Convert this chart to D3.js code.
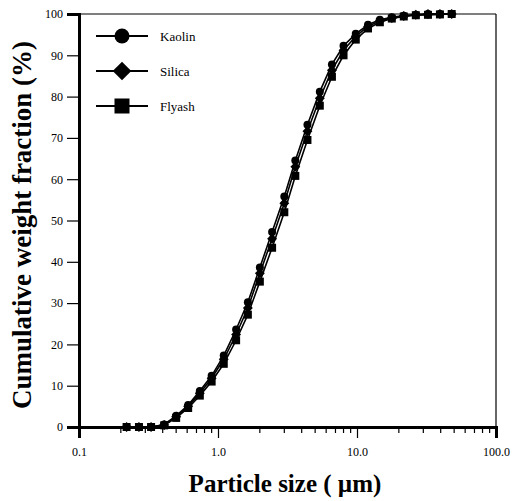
<!DOCTYPE html>
<html>
<head>
<meta charset="utf-8">
<script src="https://cdn.jsdelivr.net/npm/d3@7/dist/d3.min.js"></script>
<style>
  html, body { margin: 0; padding: 0; background: #fff; }
  svg { display: block; }
  text { font-family: "Liberation Serif", "DejaVu Serif", serif; fill: #000; }
</style>
</head>
<body>
<svg id="chart" width="512" height="501"></svg>
<script>
// Particle sizes (µm) at which the cumulative fractions were measured
const sizes = [0.22, 0.27, 0.33, 0.41, 0.5, 0.61, 0.74, 0.9, 1.1, 1.35, 1.64, 2.0, 2.45,
               3.0, 3.6, 4.4, 5.4, 6.6, 8.0, 9.8, 12, 14.6, 17.8, 21.7, 26.5, 32.4, 39.5, 48];

// Cumulative weight fraction (%) for each powder
const kaolin = [0, 0, 0, 0.6, 2.7, 5.3, 8.7, 12.4, 17.3, 23.6, 30.2, 38.6, 47.2,
                55.8, 64.5, 73.2, 81.2, 87.8, 92.3, 95.2, 97.4, 98.6, 99.2, 99.6, 99.8, 100, 100, 100];
const silica = [0, 0, 0, 0.5, 2.5, 5, 8.2, 11.8, 16.4, 22.4, 28.8, 37.2, 45.6,
                54.2, 63, 71.6, 79.6, 86.4, 91.2, 94.6, 97, 98.3, 99, 99.5, 99.8, 100, 100, 100];
const flyash = [0, 0, 0, 0.4, 2.2, 4.6, 7.6, 11, 15.3, 21, 27.2, 35.2, 43.4,
                52, 60.8, 69.5, 77.8, 84.8, 90, 93.8, 96.5, 98, 98.9, 99.4, 99.7, 99.8, 99.9, 100];

const seriesNames = ["Kaolin", "Silica", "Flyash"];
const seriesShapes = ["circle", "diamond", "square"];
const seriesValues = [kaolin, silica, flyash];

const xTickValues = [0.1, 1, 10, 100];
const xTickLabels = ["0.1", "1.0", "10.0", "100.0"];
const yTickValues = [0, 10, 20, 30, 40, 50, 60, 70, 80, 90, 100];

const margin = { left: 79, right: 16, top: 14, bottom: 74 };
const W = 512, H = 501;
const svg = d3.select("#chart");

const x = d3.scaleLog().domain([0.1, 100]).range([margin.left, W - margin.right]);
const y = d3.scaleLinear().domain([0, 100]).range([H - margin.bottom, margin.top]);

// Thin frame on top and right
svg.append("line").attr("x1", x(0.1)).attr("x2", x(100)).attr("y1", y(100)).attr("y2", y(100))
  .attr("stroke", "#000").attr("stroke-width", 1.2);
svg.append("line").attr("x1", x(100)).attr("x2", x(100)).attr("y1", y(100)).attr("y2", y(0))
  .attr("stroke", "#000").attr("stroke-width", 1.2);

// Bottom axis: major and minor log ticks
const minorTicks = [];
[0.1, 1, 10].forEach(d => { for (let k = 2; k <= 9; k++) minorTicks.push(d * k); });

const xAxis = svg.append("g").attr("transform", `translate(0,${y(0)})`);
xAxis.call(d3.axisBottom(x).tickValues(xTickValues)
    .tickFormat((d, i) => xTickLabels[i]).tickSize(11).tickPadding(9))
  .call(g => g.select(".domain").attr("stroke-width", 3))
  .call(g => g.selectAll(".tick line").attr("stroke-width", 1.2))
  .call(g => g.selectAll(".tick text").attr("font-size", 12)
    .attr("font-family", "Liberation Serif, serif"));
xAxis.selectAll("line.minor").data(minorTicks).join("line")
  .attr("class", "minor")
  .attr("x1", d => x(d)).attr("x2", d => x(d)).attr("y1", 0).attr("y2", 6)
  .attr("stroke", "#000").attr("stroke-width", 1.2);

// Left axis
svg.append("g").attr("transform", `translate(${x(0.1)},0)`)
  .call(d3.axisLeft(y).tickValues(yTickValues).tickSize(12).tickPadding(4))
  .call(g => g.select(".domain").attr("stroke-width", 3))
  .call(g => g.selectAll(".tick line").attr("stroke-width", 1.2))
  .call(g => g.selectAll(".tick text").attr("font-size", 12)
    .attr("font-family", "Liberation Serif, serif"));

// Axis titles
svg.append("text").attr("x", 285).attr("y", 492)
  .attr("text-anchor", "middle").attr("font-size", 25).attr("font-weight", "bold")
  .text("Particle size ( \u00b5m)");
svg.append("text")
  .attr("transform", "translate(31,225) rotate(-90)")
  .attr("text-anchor", "middle").attr("font-size", 27).attr("font-weight", "bold")
  .text("Cumulative weight fraction (%)");

// Marker drawing helper
function marker(g, shape, cx, cy, s) {
  if (shape === "circle") {
    g.append("circle").attr("cx", cx).attr("cy", cy).attr("r", s / 2).attr("fill", "#000");
  } else if (shape === "diamond") {
    const r = s * 0.62;
    g.append("path").attr("d", `M${cx},${cy - r}L${cx + r},${cy}L${cx},${cy + r}L${cx - r},${cy}Z`)
      .attr("fill", "#000");
  } else {
    g.append("rect").attr("x", cx - s / 2).attr("y", cy - s / 2).attr("width", s).attr("height", s)
      .attr("fill", "#000");
  }
}

const line = d3.line().x(d => x(d[0])).y(d => y(d[1]));

seriesValues.forEach((vals, i) => {
  const pts = sizes.map((s, j) => [s, vals[j]]);
  const g = svg.append("g");
  g.append("path").datum(pts).attr("d", line)
    .attr("fill", "none").attr("stroke", "#000").attr("stroke-width", 1.6);
  pts.forEach(p => marker(g, seriesShapes[i], x(p[0]), y(p[1]), 8));
});

// Legend
const legendY = [36, 71, 106];
seriesNames.forEach((name, i) => {
  const g = svg.append("g");
  g.append("line").attr("x1", 96).attr("x2", 148).attr("y1", legendY[i]).attr("y2", legendY[i])
    .attr("stroke", "#000").attr("stroke-width", 2);
  marker(g, seriesShapes[i], 122, legendY[i], 15);
  g.append("text").attr("x", 160).attr("y", legendY[i] + 4.5).attr("font-size", 13).text(name);
});
</script>
</body>
</html>
